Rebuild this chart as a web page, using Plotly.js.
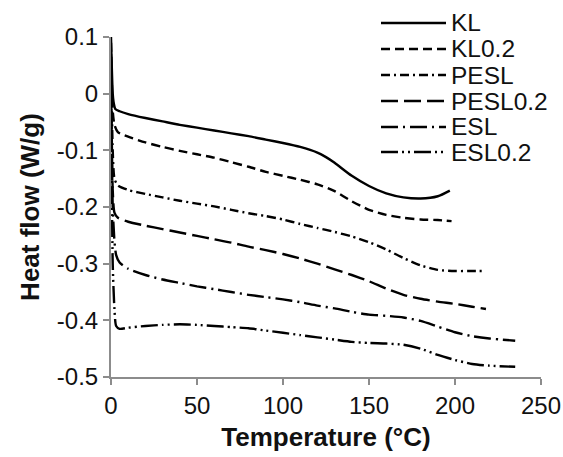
<!DOCTYPE html>
<html><head><meta charset="utf-8">
<script src="https://cdn.plot.ly/plotly-3.0.1.min.js"></script>
<style>html,body{margin:0;padding:0;background:#fff}#chart{width:563px;height:457px}</style>
</head><body><div id="chart"></div>
<script>
// Series names
const seriesNames = ["KL", "KL0.2", "PESL", "PESL0.2", "ESL", "ESL0.2"];

// Temperature (°C) and heat flow (W/g) for each series
const klT = [0, 1, 1.5, 2.5, 5, 10, 20, 30, 40, 50, 60, 70, 80, 90, 100, 110, 120, 125, 130, 140, 150, 160, 170, 180, 190, 197];
const klY = [0.1, 0.0, -0.015, -0.027, -0.031, -0.036, -0.043, -0.049, -0.055, -0.060, -0.065, -0.070, -0.075, -0.081, -0.087, -0.094, -0.104, -0.112, -0.122, -0.145, -0.163, -0.176, -0.183, -0.185, -0.181, -0.171];

const kl02T = [0, 1, 2, 4, 10, 20, 30, 40, 50, 60, 70, 80, 90, 100, 110, 120, 130, 140, 150, 160, 170, 180, 190, 198];
const kl02Y = [0.09, -0.03, -0.055, -0.068, -0.076, -0.086, -0.094, -0.101, -0.107, -0.113, -0.121, -0.129, -0.138, -0.145, -0.152, -0.160, -0.172, -0.190, -0.205, -0.214, -0.219, -0.222, -0.223, -0.225];

const peslT = [0, 1, 2, 4, 10, 20, 30, 40, 50, 60, 70, 80, 90, 100, 110, 120, 130, 140, 150, 160, 170, 180, 190, 200, 210, 217];
const peslY = [0.07, -0.1, -0.15, -0.162, -0.170, -0.177, -0.183, -0.189, -0.194, -0.199, -0.205, -0.211, -0.216, -0.222, -0.230, -0.237, -0.244, -0.252, -0.262, -0.275, -0.290, -0.303, -0.311, -0.313, -0.313, -0.313];

const pesl02T = [0, 1, 2, 4, 10, 20, 30, 40, 50, 60, 70, 80, 90, 100, 110, 120, 130, 140, 150, 160, 170, 180, 190, 200, 210, 218];
const pesl02Y = [0.05, -0.17, -0.21, -0.219, -0.226, -0.233, -0.239, -0.245, -0.251, -0.257, -0.263, -0.270, -0.276, -0.283, -0.291, -0.300, -0.310, -0.320, -0.331, -0.344, -0.355, -0.362, -0.367, -0.371, -0.376, -0.380];

const eslT = [0, 1, 2, 3, 5, 10, 20, 30, 40, 50, 60, 70, 80, 90, 100, 110, 120, 130, 140, 150, 160, 170, 180, 190, 200, 210, 220, 235];
const eslY = [0.03, -0.2, -0.26, -0.285, -0.298, -0.309, -0.320, -0.328, -0.334, -0.340, -0.345, -0.350, -0.355, -0.359, -0.363, -0.368, -0.374, -0.379, -0.385, -0.390, -0.392, -0.395, -0.401, -0.411, -0.421, -0.428, -0.432, -0.436];

const esl02T = [0, 1, 2, 3, 5, 10, 20, 30, 40, 50, 60, 70, 80, 90, 100, 110, 120, 130, 140, 150, 160, 170, 180, 190, 200, 210, 220, 235];
const esl02Y = [0.01, -0.3, -0.38, -0.41, -0.415, -0.413, -0.410, -0.408, -0.407, -0.408, -0.410, -0.412, -0.414, -0.418, -0.422, -0.426, -0.430, -0.434, -0.438, -0.440, -0.441, -0.443, -0.450, -0.461, -0.470, -0.477, -0.480, -0.482];

// Tick labels
const xTickVals = [0, 50, 100, 150, 200, 250];
const xTickText = ["0", "50", "100", "150", "200", "250"];
const yTickVals = [0.1, 0, -0.1, -0.2, -0.3, -0.4, -0.5];
const yTickText = ["0.1", "0", "-0.1", "-0.2", "-0.3", "-0.4", "-0.5"];

const xs = [klT, kl02T, peslT, pesl02T, eslT, esl02T];
const ys = [klY, kl02Y, peslY, pesl02Y, eslY, esl02Y];
const dashes = ["solid", "9px,5px", "9px,4px,2px,4px", "17px,6px", "17px,5px,2px,5px", "17px,4px,2px,4px,2px,4px"];

const FONT = "Arial, 'Liberation Sans', sans-serif";
const traces = seriesNames.map((n, i) => ({
  type: "scatter", mode: "lines", name: n,
  x: xs[i], y: ys[i],
  line: {color: "#000", width: 2.4, dash: dashes[i], shape: "spline", smoothing: 0.6},
  showlegend: false, hoverinfo: "skip"
}));

// Custom legend (long line samples like the reference)
const L = 111, W = 430, B = 377, H = 340;
const px = v => (v - L) / W, py = v => (B - v) / H;
const legRows = [23, 49, 75, 101, 127, 152];
const shapes = [], annotations = [];
seriesNames.forEach((n, i) => {
  shapes.push({type: "line", xref: "paper", yref: "paper",
    x0: px(381), x1: px(446), y0: py(legRows[i]), y1: py(legRows[i]),
    line: {color: "#000", width: 2.4, dash: dashes[i]}});
  annotations.push({xref: "paper", yref: "paper", x: px(449), y: py(legRows[i]),
    xanchor: "left", yanchor: "middle", text: n, showarrow: false,
    font: {family: FONT, size: 24.5, color: "#111"}});
});

const axisCommon = {
  showgrid: false, zeroline: false, showline: true, linecolor: "#8c8c8c", linewidth: 2,
  ticks: "outside", ticklen: 6, tickwidth: 2, tickcolor: "#8c8c8c",
  tickfont: {family: FONT, size: 24, color: "#111"}
};

const layout = {
  width: 563, height: 457,
  margin: {l: 111, r: 22, t: 37, b: 80},
  paper_bgcolor: "#fff", plot_bgcolor: "#fff",
  showlegend: false,
  xaxis: Object.assign({}, axisCommon, {
    range: [0, 250], tickvals: xTickVals, ticktext: xTickText,
    title: {text: "<b>Temperature (°C)</b>", font: {family: FONT, size: 26, color: "#111"}, standoff: 10}
  }),
  yaxis: Object.assign({}, axisCommon, {
    range: [-0.5, 0.1], tickvals: yTickVals, ticktext: yTickText,
    title: {text: "<b>Heat flow (W/g)</b>", font: {family: FONT, size: 26, color: "#111"}, standoff: 10}
  }),
  shapes: shapes, annotations: annotations
};

Plotly.newPlot("chart", traces, layout, {displayModeBar: false, staticPlot: true});
</script></body></html>
